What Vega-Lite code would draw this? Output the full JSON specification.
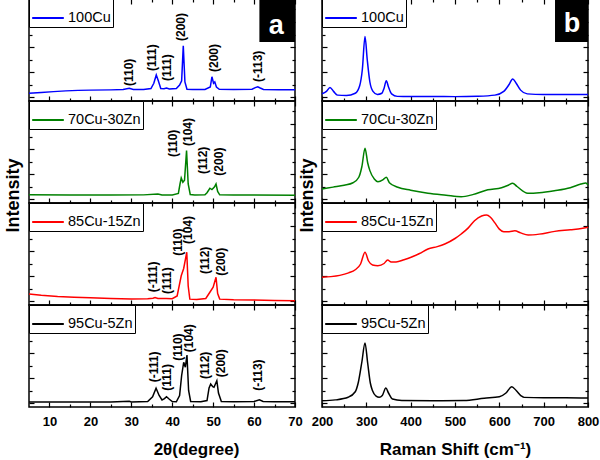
{
"$schema": "https://vega.github.io/schema/vega-lite/v6.json",
"padding": {"left": 3, "top": -3, "right": 2, "bottom": 2},
"background": "white",
"datasets": {
"xrd": [
{"sample":"100Cu","theta":5,"intensity":0.30},{"sample":"100Cu","theta":8,"intensity":0.36},{"sample":"100Cu","theta":11,"intensity":0.43},{"sample":"100Cu","theta":14,"intensity":0.49},{"sample":"100Cu","theta":17,"intensity":0.53},{"sample":"100Cu","theta":20,"intensity":0.55},{"sample":"100Cu","theta":25,"intensity":0.57},{"sample":"100Cu","theta":28,"intensity":0.60},{"sample":"100Cu","theta":29.5,"intensity":0.70},{"sample":"100Cu","theta":30.5,"intensity":0.60},{"sample":"100Cu","theta":33,"intensity":0.60},{"sample":"100Cu","theta":34.8,"intensity":0.68},{"sample":"100Cu","theta":35.5,"intensity":1.1},{"sample":"100Cu","theta":36.1,"intensity":1.76},{"sample":"100Cu","theta":36.6,"intensity":1.3},{"sample":"100Cu","theta":37.2,"intensity":0.68},{"sample":"100Cu","theta":38.0,"intensity":0.66},{"sample":"100Cu","theta":38.6,"intensity":0.72},{"sample":"100Cu","theta":39.3,"intensity":0.64},{"sample":"100Cu","theta":41,"intensity":0.68},{"sample":"100Cu","theta":41.8,"intensity":0.95},{"sample":"100Cu","theta":42.3,"intensity":1.3},{"sample":"100Cu","theta":42.7,"intensity":4.10},{"sample":"100Cu","theta":43.1,"intensity":1.2},{"sample":"100Cu","theta":43.6,"intensity":0.62},{"sample":"100Cu","theta":45,"intensity":0.6},{"sample":"100Cu","theta":48,"intensity":0.6},{"sample":"100Cu","theta":49.3,"intensity":0.8},{"sample":"100Cu","theta":49.7,"intensity":1.62},{"sample":"100Cu","theta":50.1,"intensity":1.1},{"sample":"100Cu","theta":50.4,"intensity":1.2},{"sample":"100Cu","theta":50.8,"intensity":0.8},{"sample":"100Cu","theta":51.5,"intensity":0.62},{"sample":"100Cu","theta":55,"intensity":0.6},{"sample":"100Cu","theta":59.5,"intensity":0.62},{"sample":"100Cu","theta":60.3,"intensity":0.75},{"sample":"100Cu","theta":60.9,"intensity":0.82},{"sample":"100Cu","theta":61.5,"intensity":0.72},{"sample":"100Cu","theta":62.3,"intensity":0.6},{"sample":"100Cu","theta":66,"intensity":0.58},{"sample":"100Cu","theta":70,"intensity":0.58},
{"sample":"70Cu-30Zn","theta":5,"intensity":0.34},{"sample":"70Cu-30Zn","theta":15,"intensity":0.32},{"sample":"70Cu-30Zn","theta":25,"intensity":0.32},{"sample":"70Cu-30Zn","theta":33,"intensity":0.33},{"sample":"70Cu-30Zn","theta":36.5,"intensity":0.4},{"sample":"70Cu-30Zn","theta":37.5,"intensity":0.33},{"sample":"70Cu-30Zn","theta":40,"intensity":0.33},{"sample":"70Cu-30Zn","theta":41.5,"intensity":0.45},{"sample":"70Cu-30Zn","theta":41.9,"intensity":1.2},{"sample":"70Cu-30Zn","theta":42.2,"intensity":1.68},{"sample":"70Cu-30Zn","theta":42.6,"intensity":1.34},{"sample":"70Cu-30Zn","theta":43.0,"intensity":1.5},{"sample":"70Cu-30Zn","theta":43.5,"intensity":3.87},{"sample":"70Cu-30Zn","theta":43.9,"intensity":1.2},{"sample":"70Cu-30Zn","theta":44.4,"intensity":0.36},{"sample":"70Cu-30Zn","theta":45.5,"intensity":0.32},{"sample":"70Cu-30Zn","theta":48,"intensity":0.33},{"sample":"70Cu-30Zn","theta":48.5,"intensity":0.5},{"sample":"70Cu-30Zn","theta":49.2,"intensity":0.86},{"sample":"70Cu-30Zn","theta":49.7,"intensity":0.75},{"sample":"70Cu-30Zn","theta":50.3,"intensity":0.95},{"sample":"70Cu-30Zn","theta":50.7,"intensity":1.2},{"sample":"70Cu-30Zn","theta":51.1,"intensity":0.6},{"sample":"70Cu-30Zn","theta":51.6,"intensity":0.33},{"sample":"70Cu-30Zn","theta":55,"intensity":0.32},{"sample":"70Cu-30Zn","theta":60,"intensity":0.32},{"sample":"70Cu-30Zn","theta":70,"intensity":0.30},
{"sample":"85Cu-15Zn","theta":5,"intensity":0.56},{"sample":"85Cu-15Zn","theta":8,"intensity":0.46},{"sample":"85Cu-15Zn","theta":12,"intensity":0.36},{"sample":"85Cu-15Zn","theta":16,"intensity":0.30},{"sample":"85Cu-15Zn","theta":20,"intensity":0.26},{"sample":"85Cu-15Zn","theta":25,"intensity":0.20},{"sample":"85Cu-15Zn","theta":30,"intensity":0.17},{"sample":"85Cu-15Zn","theta":34,"intensity":0.18},{"sample":"85Cu-15Zn","theta":35.3,"intensity":0.22},{"sample":"85Cu-15Zn","theta":35.8,"intensity":0.28},{"sample":"85Cu-15Zn","theta":36.5,"intensity":0.2},{"sample":"85Cu-15Zn","theta":38.5,"intensity":0.2},{"sample":"85Cu-15Zn","theta":40,"intensity":0.18},{"sample":"85Cu-15Zn","theta":41.2,"intensity":0.4},{"sample":"85Cu-15Zn","theta":42.2,"intensity":2.02},{"sample":"85Cu-15Zn","theta":42.8,"intensity":2.6},{"sample":"85Cu-15Zn","theta":43.55,"intensity":3.9},{"sample":"85Cu-15Zn","theta":43.9,"intensity":1.2},{"sample":"85Cu-15Zn","theta":44.3,"intensity":0.15},{"sample":"85Cu-15Zn","theta":46,"intensity":0.12},{"sample":"85Cu-15Zn","theta":48.2,"intensity":0.2},{"sample":"85Cu-15Zn","theta":49.2,"intensity":0.7},{"sample":"85Cu-15Zn","theta":50.0,"intensity":1.1},{"sample":"85Cu-15Zn","theta":50.7,"intensity":1.9},{"sample":"85Cu-15Zn","theta":51.1,"intensity":0.6},{"sample":"85Cu-15Zn","theta":51.6,"intensity":0.15},{"sample":"85Cu-15Zn","theta":55,"intensity":0.1},{"sample":"85Cu-15Zn","theta":60,"intensity":0.08},{"sample":"85Cu-15Zn","theta":65,"intensity":0.04},{"sample":"85Cu-15Zn","theta":70,"intensity":0.02},
{"sample":"95Cu-5Zn","theta":5,"intensity":0.08},{"sample":"95Cu-5Zn","theta":15,"intensity":0.08},{"sample":"95Cu-5Zn","theta":25,"intensity":0.08},{"sample":"95Cu-5Zn","theta":29.5,"intensity":0.14},{"sample":"95Cu-5Zn","theta":30,"intensity":0.08},{"sample":"95Cu-5Zn","theta":34,"intensity":0.12},{"sample":"95Cu-5Zn","theta":35.2,"intensity":0.5},{"sample":"95Cu-5Zn","theta":36.05,"intensity":1.18},{"sample":"95Cu-5Zn","theta":36.8,"intensity":0.6},{"sample":"95Cu-5Zn","theta":37.5,"intensity":0.24},{"sample":"95Cu-5Zn","theta":38.1,"intensity":0.35},{"sample":"95Cu-5Zn","theta":38.6,"intensity":0.5},{"sample":"95Cu-5Zn","theta":39.3,"intensity":0.3},{"sample":"95Cu-5Zn","theta":40,"intensity":0.12},{"sample":"95Cu-5Zn","theta":41,"intensity":0.1},{"sample":"95Cu-5Zn","theta":41.8,"intensity":0.6},{"sample":"95Cu-5Zn","theta":42.3,"intensity":2.2},{"sample":"95Cu-5Zn","theta":42.8,"intensity":3.26},{"sample":"95Cu-5Zn","theta":43.2,"intensity":2.86},{"sample":"95Cu-5Zn","theta":43.6,"intensity":3.84},{"sample":"95Cu-5Zn","theta":44.0,"intensity":1.0},{"sample":"95Cu-5Zn","theta":44.5,"intensity":0.12},{"sample":"95Cu-5Zn","theta":47,"intensity":0.1},{"sample":"95Cu-5Zn","theta":48.5,"intensity":0.2},{"sample":"95Cu-5Zn","theta":49.0,"intensity":1.2},{"sample":"95Cu-5Zn","theta":49.4,"intensity":1.52},{"sample":"95Cu-5Zn","theta":49.9,"intensity":1.3},{"sample":"95Cu-5Zn","theta":50.2,"intensity":1.26},{"sample":"95Cu-5Zn","theta":50.9,"intensity":1.78},{"sample":"95Cu-5Zn","theta":51.3,"intensity":0.8},{"sample":"95Cu-5Zn","theta":52,"intensity":0.12},{"sample":"95Cu-5Zn","theta":55,"intensity":0.1},{"sample":"95Cu-5Zn","theta":60,"intensity":0.12},{"sample":"95Cu-5Zn","theta":61.3,"intensity":0.26},{"sample":"95Cu-5Zn","theta":62.2,"intensity":0.12},{"sample":"95Cu-5Zn","theta":65,"intensity":0.1},{"sample":"95Cu-5Zn","theta":70,"intensity":0.1}
],
"raman": [
{"sample":"100Cu","shift":200,"intensity":0.26},{"sample":"100Cu","shift":210,"intensity":0.45},{"sample":"100Cu","shift":218,"intensity":0.77},{"sample":"100Cu","shift":226,"intensity":0.45},{"sample":"100Cu","shift":235,"intensity":0.15},{"sample":"100Cu","shift":255,"intensity":0.12},{"sample":"100Cu","shift":275,"intensity":0.3},{"sample":"100Cu","shift":285,"intensity":0.9},{"sample":"100Cu","shift":291,"intensity":2.2},{"sample":"100Cu","shift":297,"intensity":4.85},{"sample":"100Cu","shift":302,"intensity":3.0},{"sample":"100Cu","shift":308,"intensity":1.2},{"sample":"100Cu","shift":315,"intensity":0.45},{"sample":"100Cu","shift":325,"intensity":0.2},{"sample":"100Cu","shift":335,"intensity":0.3},{"sample":"100Cu","shift":340,"intensity":0.7},{"sample":"100Cu","shift":345,"intensity":1.3},{"sample":"100Cu","shift":350,"intensity":0.8},{"sample":"100Cu","shift":357,"intensity":0.25},{"sample":"100Cu","shift":370,"intensity":0.05},{"sample":"100Cu","shift":400,"intensity":0.04},{"sample":"100Cu","shift":450,"intensity":0.04},{"sample":"100Cu","shift":500,"intensity":0.03},{"sample":"100Cu","shift":550,"intensity":0.06},{"sample":"100Cu","shift":590,"intensity":0.15},{"sample":"100Cu","shift":610,"intensity":0.45},{"sample":"100Cu","shift":622,"intensity":1.0},{"sample":"100Cu","shift":630,"intensity":1.44},{"sample":"100Cu","shift":638,"intensity":1.1},{"sample":"100Cu","shift":648,"intensity":0.55},{"sample":"100Cu","shift":663,"intensity":0.25},{"sample":"100Cu","shift":700,"intensity":0.2},{"sample":"100Cu","shift":750,"intensity":0.2},{"sample":"100Cu","shift":800,"intensity":0.2},
{"sample":"70Cu-30Zn","shift":200,"intensity":0.8},{"sample":"70Cu-30Zn","shift":225,"intensity":0.95},{"sample":"70Cu-30Zn","shift":250,"intensity":1.1},{"sample":"70Cu-30Zn","shift":270,"intensity":1.3},{"sample":"70Cu-30Zn","shift":283,"intensity":1.74},{"sample":"70Cu-30Zn","shift":290,"intensity":2.6},{"sample":"70Cu-30Zn","shift":297,"intensity":4.06},{"sample":"70Cu-30Zn","shift":303,"intensity":2.9},{"sample":"70Cu-30Zn","shift":308,"intensity":2.27},{"sample":"70Cu-30Zn","shift":318,"intensity":1.6},{"sample":"70Cu-30Zn","shift":326,"intensity":1.38},{"sample":"70Cu-30Zn","shift":338,"intensity":1.55},{"sample":"70Cu-30Zn","shift":345,"intensity":1.74},{"sample":"70Cu-30Zn","shift":352,"intensity":1.3},{"sample":"70Cu-30Zn","shift":371,"intensity":0.94},{"sample":"70Cu-30Zn","shift":400,"intensity":0.7},{"sample":"70Cu-30Zn","shift":439,"intensity":0.46},{"sample":"70Cu-30Zn","shift":480,"intensity":0.3},{"sample":"70Cu-30Zn","shift":514,"intensity":0.18},{"sample":"70Cu-30Zn","shift":540,"intensity":0.35},{"sample":"70Cu-30Zn","shift":574,"intensity":0.74},{"sample":"70Cu-30Zn","shift":605,"intensity":0.9},{"sample":"70Cu-30Zn","shift":620,"intensity":1.1},{"sample":"70Cu-30Zn","shift":630,"intensity":1.26},{"sample":"70Cu-30Zn","shift":640,"intensity":1.0},{"sample":"70Cu-30Zn","shift":664,"intensity":0.46},{"sample":"70Cu-30Zn","shift":690,"intensity":0.5},{"sample":"70Cu-30Zn","shift":724,"intensity":0.66},{"sample":"70Cu-30Zn","shift":760,"intensity":0.9},{"sample":"70Cu-30Zn","shift":784,"intensity":1.2},{"sample":"70Cu-30Zn","shift":795,"intensity":1.28},{"sample":"70Cu-30Zn","shift":800,"intensity":1.12},
{"sample":"85Cu-15Zn","shift":200,"intensity":1.9},{"sample":"85Cu-15Zn","shift":220,"intensity":1.95},{"sample":"85Cu-15Zn","shift":240,"intensity":2.05},{"sample":"85Cu-15Zn","shift":260,"intensity":2.25},{"sample":"85Cu-15Zn","shift":275,"intensity":2.5},{"sample":"85Cu-15Zn","shift":287,"intensity":2.96},{"sample":"85Cu-15Zn","shift":297,"intensity":3.9},{"sample":"85Cu-15Zn","shift":305,"intensity":3.2},{"sample":"85Cu-15Zn","shift":314,"intensity":2.88},{"sample":"85Cu-15Zn","shift":326,"intensity":2.82},{"sample":"85Cu-15Zn","shift":340,"intensity":3.0},{"sample":"85Cu-15Zn","shift":348,"intensity":3.28},{"sample":"85Cu-15Zn","shift":356,"intensity":3.12},{"sample":"85Cu-15Zn","shift":367,"intensity":3.12},{"sample":"85Cu-15Zn","shift":385,"intensity":3.3},{"sample":"85Cu-15Zn","shift":401,"intensity":3.5},{"sample":"85Cu-15Zn","shift":420,"intensity":3.8},{"sample":"85Cu-15Zn","shift":439,"intensity":4.16},{"sample":"85Cu-15Zn","shift":460,"intensity":4.35},{"sample":"85Cu-15Zn","shift":477,"intensity":4.56},{"sample":"85Cu-15Zn","shift":500,"intensity":5.0},{"sample":"85Cu-15Zn","shift":514,"intensity":5.36},{"sample":"85Cu-15Zn","shift":530,"intensity":5.85},{"sample":"85Cu-15Zn","shift":544,"intensity":6.42},{"sample":"85Cu-15Zn","shift":560,"intensity":6.8},{"sample":"85Cu-15Zn","shift":571,"intensity":6.88},{"sample":"85Cu-15Zn","shift":580,"intensity":6.7},{"sample":"85Cu-15Zn","shift":590,"intensity":6.25},{"sample":"85Cu-15Zn","shift":600,"intensity":5.75},{"sample":"85Cu-15Zn","shift":610,"intensity":5.55},{"sample":"85Cu-15Zn","shift":622,"intensity":5.55},{"sample":"85Cu-15Zn","shift":635,"intensity":5.62},{"sample":"85Cu-15Zn","shift":648,"intensity":5.45},{"sample":"85Cu-15Zn","shift":665,"intensity":5.28},{"sample":"85Cu-15Zn","shift":690,"intensity":5.35},{"sample":"85Cu-15Zn","shift":725,"intensity":5.57},{"sample":"85Cu-15Zn","shift":760,"intensity":5.7},{"sample":"85Cu-15Zn","shift":785,"intensity":5.8},{"sample":"85Cu-15Zn","shift":800,"intensity":5.9},
{"sample":"95Cu-5Zn","shift":200,"intensity":0.18},{"sample":"95Cu-5Zn","shift":230,"intensity":0.25},{"sample":"95Cu-5Zn","shift":259,"intensity":0.46},{"sample":"95Cu-5Zn","shift":275,"intensity":0.9},{"sample":"95Cu-5Zn","shift":282,"intensity":1.66},{"sample":"95Cu-5Zn","shift":290,"intensity":3.3},{"sample":"95Cu-5Zn","shift":297,"intensity":4.8},{"sample":"95Cu-5Zn","shift":303,"intensity":3.2},{"sample":"95Cu-5Zn","shift":309,"intensity":1.6},{"sample":"95Cu-5Zn","shift":314,"intensity":0.98},{"sample":"95Cu-5Zn","shift":322,"intensity":0.55},{"sample":"95Cu-5Zn","shift":329,"intensity":0.46},{"sample":"95Cu-5Zn","shift":336,"intensity":0.6},{"sample":"95Cu-5Zn","shift":344,"intensity":1.2},{"sample":"95Cu-5Zn","shift":350,"intensity":0.8},{"sample":"95Cu-5Zn","shift":359,"intensity":0.32},{"sample":"95Cu-5Zn","shift":380,"intensity":0.2},{"sample":"95Cu-5Zn","shift":450,"intensity":0.18},{"sample":"95Cu-5Zn","shift":520,"intensity":0.2},{"sample":"95Cu-5Zn","shift":566,"intensity":0.38},{"sample":"95Cu-5Zn","shift":600,"intensity":0.5},{"sample":"95Cu-5Zn","shift":615,"intensity":0.8},{"sample":"95Cu-5Zn","shift":628,"intensity":1.3},{"sample":"95Cu-5Zn","shift":638,"intensity":1.0},{"sample":"95Cu-5Zn","shift":650,"intensity":0.55},{"sample":"95Cu-5Zn","shift":656,"intensity":0.45},{"sample":"95Cu-5Zn","shift":700,"intensity":0.42},{"sample":"95Cu-5Zn","shift":750,"intensity":0.42},{"sample":"95Cu-5Zn","shift":800,"intensity":0.4}
],
"labels": [
{"sample":"100Cu","theta":29.5,"intensity":0.88,"label":"(110)"},{"sample":"100Cu","theta":35.1,"intensity":2.08,"label":"(111)"},{"sample":"100Cu","theta":38.7,"intensity":1.28,"label":"(111)"},{"sample":"100Cu","theta":42.2,"intensity":4.48,"label":"(200)"},{"sample":"100Cu","theta":50.1,"intensity":2.0,"label":"(200)"},{"sample":"100Cu","theta":60.9,"intensity":1.2,"label":"(-113)"},
{"sample":"70Cu-30Zn","theta":40.1,"intensity":3.36,"label":"(110)"},{"sample":"70Cu-30Zn","theta":43.8,"intensity":4.24,"label":"(104)"},{"sample":"70Cu-30Zn","theta":47.6,"intensity":2.0,"label":"(112)"},{"sample":"70Cu-30Zn","theta":51.5,"intensity":1.87,"label":"(200)"},
{"sample":"85Cu-15Zn","theta":35.2,"intensity":0.7,"label":"(-111)"},{"sample":"85Cu-15Zn","theta":38.7,"intensity":0.56,"label":"(111)"},{"sample":"85Cu-15Zn","theta":41.3,"intensity":3.62,"label":"(110)"},{"sample":"85Cu-15Zn","theta":43.8,"intensity":4.56,"label":"(104)"},{"sample":"85Cu-15Zn","theta":47.9,"intensity":2.16,"label":"(112)"},{"sample":"85Cu-15Zn","theta":51.9,"intensity":2.02,"label":"(200)"},
{"sample":"95Cu-5Zn","theta":35.6,"intensity":1.66,"label":"(-111)"},{"sample":"95Cu-5Zn","theta":38.7,"intensity":0.98,"label":"(111)"},{"sample":"95Cu-5Zn","theta":41.3,"intensity":3.38,"label":"(110)"},{"sample":"95Cu-5Zn","theta":44.2,"intensity":4.06,"label":"(104)"},{"sample":"95Cu-5Zn","theta":47.9,"intensity":1.92,"label":"(112)"},{"sample":"95Cu-5Zn","theta":51.9,"intensity":2.06,"label":"(200)"},{"sample":"95Cu-5Zn","theta":60.9,"intensity":0.98,"label":"(-113)"}
]
},
"columns": 2,
"bounds": "flush",
"spacing": {"row": 0, "column": 27},
"resolve": {"scale": {"color": "independent", "x": "independent", "y": "independent"}, "legend": {"color": "independent"}},
"concat": [
{"width": 266, "height": 102, "data": {"name": "xrd"}, "transform": [{"filter": "datum.sample === '100Cu'"}],
 "layer": [
  {"mark": {"type": "line", "strokeWidth": 1.5},
   "encoding": {"x": {"field": "theta", "type": "quantitative", "scale": {"domain": [5, 70], "nice": false, "zero": false}, "axis": {"orient": "bottom", "values": [10,20,30,40,50,60,70], "tickSize": -5, "labels": false, "title": null}},
    "y": {"field": "intensity", "type": "quantitative", "scale": {"domain": [-0.32, 7.84], "nice": false, "zero": false}, "axis": {"orient": "left", "values": [0,2,4,6], "tickSize": -5, "labels": false, "title": null}},
    "color": {"field": "sample", "type": "nominal", "scale": {"range": ["#0000ff"]}, "legend": {"title": null}}}},
  {"mark": {"type": "line", "strokeOpacity": 0}, "encoding": {"x": {"field": "theta", "type": "quantitative", "axis": {"orient": "top", "values": [10,20,30,40,50,60,70], "tickSize": -5, "labels": false, "title": null}}, "y": {"field": "intensity", "type": "quantitative", "axis": {"orient": "right", "values": [0,2,4,6], "tickSize": -5, "labels": false, "title": null}}}},
  {"mark": {"type": "line", "strokeOpacity": 0}, "encoding": {"x": {"field": "theta", "type": "quantitative", "axis": {"orient": "bottom", "values": [15,25,35,45,55,65], "tickSize": -3, "labels": false, "title": null}}, "y": {"field": "intensity", "type": "quantitative", "axis": {"orient": "left", "values": [1,3,5,7], "tickSize": -3, "labels": false, "title": null}}}},
  {"mark": {"type": "line", "strokeOpacity": 0}, "encoding": {"x": {"field": "theta", "type": "quantitative", "axis": {"orient": "top", "values": [15,25,35,45,55,65], "tickSize": -3, "labels": false, "title": null}}, "y": {"field": "intensity", "type": "quantitative", "axis": {"orient": "right", "values": [1,3,5,7], "tickSize": -3, "labels": false, "title": null}}}},
  {"data": {"name": "labels"}, "transform": [{"filter": "datum.sample === '100Cu'"}], "mark": {"type": "text", "angle": 270, "align": "left", "baseline": "middle", "fontWeight": "bold", "fontSize": 12, "color": "black"}, "encoding": {"x": {"field": "theta", "type": "quantitative", "axis": null}, "y": {"field": "intensity", "type": "quantitative", "axis": null}, "text": {"field": "label"}}},
  {"data": {"values": [{}]}, "mark": {"type": "rect", "color": "black"}, "encoding": {"x": {"datum": 61.3, "type": "quantitative", "axis": null}, "x2": {"datum": 70}, "y": {"datum": 7.84, "type": "quantitative", "axis": null}, "y2": {"datum": 4.4}}},
  {"data": {"values": [{}]}, "mark": {"type": "text", "text": "a", "color": "white", "fontWeight": "bold", "fontSize": 27, "align": "center", "baseline": "alphabetic"}, "encoding": {"x": {"datum": 65.4, "type": "quantitative", "axis": null}, "y": {"datum": 5.04, "type": "quantitative", "axis": null}}}
 ],
 "resolve": {"axis": {"x": "independent", "y": "independent"}}},
{"width": 266, "height": 102, "data": {"name": "raman"}, "transform": [{"filter": "datum.sample === '100Cu'"}],
 "layer": [
  {"mark": {"type": "line", "strokeWidth": 1.5, "interpolate": "monotone"},
   "encoding": {"x": {"field": "shift", "type": "quantitative", "scale": {"domain": [200, 800], "nice": false, "zero": false}, "axis": {"orient": "bottom", "values": [200,300,400,500,600,700,800], "tickSize": -5, "labels": false, "title": null}},
    "y": {"field": "intensity", "type": "quantitative", "scale": {"domain": [-0.32, 7.84], "nice": false, "zero": false}, "axis": {"orient": "left", "values": [0,2,4,6], "tickSize": -5, "labels": false, "title": null}},
    "color": {"field": "sample", "type": "nominal", "scale": {"range": ["#0000ff"]}, "legend": {"title": null}}}},
  {"mark": {"type": "line", "strokeOpacity": 0}, "encoding": {"x": {"field": "shift", "type": "quantitative", "axis": {"orient": "top", "values": [200,300,400,500,600,700,800], "tickSize": -5, "labels": false, "title": null}}, "y": {"field": "intensity", "type": "quantitative", "axis": {"orient": "right", "values": [0,2,4,6], "tickSize": -5, "labels": false, "title": null}}}},
  {"mark": {"type": "line", "strokeOpacity": 0}, "encoding": {"x": {"field": "shift", "type": "quantitative", "axis": {"orient": "bottom", "values": [250,350,450,550,650,750], "tickSize": -3, "labels": false, "title": null}}, "y": {"field": "intensity", "type": "quantitative", "axis": {"orient": "left", "values": [1,3,5,7], "tickSize": -3, "labels": false, "title": null}}}},
  {"mark": {"type": "line", "strokeOpacity": 0}, "encoding": {"x": {"field": "shift", "type": "quantitative", "axis": {"orient": "top", "values": [250,350,450,550,650,750], "tickSize": -3, "labels": false, "title": null}}, "y": {"field": "intensity", "type": "quantitative", "axis": {"orient": "right", "values": [1,3,5,7], "tickSize": -3, "labels": false, "title": null}}}},
  {"data": {"values": [{}]}, "mark": {"type": "rect", "color": "black"}, "encoding": {"x": {"datum": 725.6, "type": "quantitative", "axis": null}, "x2": {"datum": 800}, "y": {"datum": 7.84, "type": "quantitative", "axis": null}, "y2": {"datum": 4.4}}},
  {"data": {"values": [{}]}, "mark": {"type": "text", "text": "b", "color": "white", "fontWeight": "bold", "fontSize": 27, "align": "center", "baseline": "alphabetic"}, "encoding": {"x": {"datum": 764, "type": "quantitative", "axis": null}, "y": {"datum": 5.2, "type": "quantitative", "axis": null}}}
 ],
 "resolve": {"axis": {"x": "independent", "y": "independent"}}},
{"width": 266, "height": 102, "data": {"name": "xrd"}, "transform": [{"filter": "datum.sample === '70Cu-30Zn'"}],
 "layer": [
  {"mark": {"type": "line", "strokeWidth": 1.5},
   "encoding": {"x": {"field": "theta", "type": "quantitative", "scale": {"domain": [5, 70], "nice": false, "zero": false}, "axis": {"orient": "bottom", "values": [10,20,30,40,50,60,70], "tickSize": -5, "labels": false, "title": null}},
    "y": {"field": "intensity", "type": "quantitative", "scale": {"domain": [-0.32, 7.84], "nice": false, "zero": false}, "axis": {"orient": "left", "values": [0,2,4,6], "tickSize": -5, "labels": false, "title": "Intensity", "titleY": 94, "titlePadding": 6, "titleFontSize": 18}},
    "color": {"field": "sample", "type": "nominal", "scale": {"range": ["#008000"]}, "legend": {"title": null}}}},
  {"mark": {"type": "line", "strokeOpacity": 0}, "encoding": {"x": {"field": "theta", "type": "quantitative", "axis": {"orient": "top", "values": [10,20,30,40,50,60,70], "tickSize": -5, "labels": false, "title": null}}, "y": {"field": "intensity", "type": "quantitative", "axis": {"orient": "right", "values": [0,2,4,6], "tickSize": -5, "labels": false, "title": null}}}},
  {"mark": {"type": "line", "strokeOpacity": 0}, "encoding": {"x": {"field": "theta", "type": "quantitative", "axis": {"orient": "bottom", "values": [15,25,35,45,55,65], "tickSize": -3, "labels": false, "title": null}}, "y": {"field": "intensity", "type": "quantitative", "axis": {"orient": "left", "values": [1,3,5,7], "tickSize": -3, "labels": false, "title": null}}}},
  {"mark": {"type": "line", "strokeOpacity": 0}, "encoding": {"x": {"field": "theta", "type": "quantitative", "axis": {"orient": "top", "values": [15,25,35,45,55,65], "tickSize": -3, "labels": false, "title": null}}, "y": {"field": "intensity", "type": "quantitative", "axis": {"orient": "right", "values": [1,3,5,7], "tickSize": -3, "labels": false, "title": null}}}},
  {"data": {"name": "labels"}, "transform": [{"filter": "datum.sample === '70Cu-30Zn'"}], "mark": {"type": "text", "angle": 270, "align": "left", "baseline": "middle", "fontWeight": "bold", "fontSize": 12, "color": "black"}, "encoding": {"x": {"field": "theta", "type": "quantitative", "axis": null}, "y": {"field": "intensity", "type": "quantitative", "axis": null}, "text": {"field": "label"}}}
 ],
 "resolve": {"axis": {"x": "independent", "y": "independent"}}},
{"width": 266, "height": 102, "data": {"name": "raman"}, "transform": [{"filter": "datum.sample === '70Cu-30Zn'"}],
 "layer": [
  {"mark": {"type": "line", "strokeWidth": 1.5, "interpolate": "monotone"},
   "encoding": {"x": {"field": "shift", "type": "quantitative", "scale": {"domain": [200, 800], "nice": false, "zero": false}, "axis": {"orient": "bottom", "values": [200,300,400,500,600,700,800], "tickSize": -5, "labels": false, "title": null}},
    "y": {"field": "intensity", "type": "quantitative", "scale": {"domain": [-0.32, 7.84], "nice": false, "zero": false}, "axis": {"orient": "left", "values": [0,2,4,6], "tickSize": -5, "labels": false, "title": "Intensity", "titleY": 94, "titlePadding": 5, "titleFontSize": 18}},
    "color": {"field": "sample", "type": "nominal", "scale": {"range": ["#008000"]}, "legend": {"title": null}}}},
  {"mark": {"type": "line", "strokeOpacity": 0}, "encoding": {"x": {"field": "shift", "type": "quantitative", "axis": {"orient": "top", "values": [200,300,400,500,600,700,800], "tickSize": -5, "labels": false, "title": null}}, "y": {"field": "intensity", "type": "quantitative", "axis": {"orient": "right", "values": [0,2,4,6], "tickSize": -5, "labels": false, "title": null}}}},
  {"mark": {"type": "line", "strokeOpacity": 0}, "encoding": {"x": {"field": "shift", "type": "quantitative", "axis": {"orient": "bottom", "values": [250,350,450,550,650,750], "tickSize": -3, "labels": false, "title": null}}, "y": {"field": "intensity", "type": "quantitative", "axis": {"orient": "left", "values": [1,3,5,7], "tickSize": -3, "labels": false, "title": null}}}},
  {"mark": {"type": "line", "strokeOpacity": 0}, "encoding": {"x": {"field": "shift", "type": "quantitative", "axis": {"orient": "top", "values": [250,350,450,550,650,750], "tickSize": -3, "labels": false, "title": null}}, "y": {"field": "intensity", "type": "quantitative", "axis": {"orient": "right", "values": [1,3,5,7], "tickSize": -3, "labels": false, "title": null}}}}
 ],
 "resolve": {"axis": {"x": "independent", "y": "independent"}}},
{"width": 266, "height": 102, "data": {"name": "xrd"}, "transform": [{"filter": "datum.sample === '85Cu-15Zn'"}],
 "layer": [
  {"mark": {"type": "line", "strokeWidth": 1.5},
   "encoding": {"x": {"field": "theta", "type": "quantitative", "scale": {"domain": [5, 70], "nice": false, "zero": false}, "axis": {"orient": "bottom", "values": [10,20,30,40,50,60,70], "tickSize": -5, "labels": false, "title": null}},
    "y": {"field": "intensity", "type": "quantitative", "scale": {"domain": [-0.32, 7.84], "nice": false, "zero": false}, "axis": {"orient": "left", "values": [0,2,4,6], "tickSize": -5, "labels": false, "title": null}},
    "color": {"field": "sample", "type": "nominal", "scale": {"range": ["#ff0000"]}, "legend": {"title": null}}}},
  {"mark": {"type": "line", "strokeOpacity": 0}, "encoding": {"x": {"field": "theta", "type": "quantitative", "axis": {"orient": "top", "values": [10,20,30,40,50,60,70], "tickSize": -5, "labels": false, "title": null}}, "y": {"field": "intensity", "type": "quantitative", "axis": {"orient": "right", "values": [0,2,4,6], "tickSize": -5, "labels": false, "title": null}}}},
  {"mark": {"type": "line", "strokeOpacity": 0}, "encoding": {"x": {"field": "theta", "type": "quantitative", "axis": {"orient": "bottom", "values": [15,25,35,45,55,65], "tickSize": -3, "labels": false, "title": null}}, "y": {"field": "intensity", "type": "quantitative", "axis": {"orient": "left", "values": [1,3,5,7], "tickSize": -3, "labels": false, "title": null}}}},
  {"mark": {"type": "line", "strokeOpacity": 0}, "encoding": {"x": {"field": "theta", "type": "quantitative", "axis": {"orient": "top", "values": [15,25,35,45,55,65], "tickSize": -3, "labels": false, "title": null}}, "y": {"field": "intensity", "type": "quantitative", "axis": {"orient": "right", "values": [1,3,5,7], "tickSize": -3, "labels": false, "title": null}}}},
  {"data": {"name": "labels"}, "transform": [{"filter": "datum.sample === '85Cu-15Zn'"}], "mark": {"type": "text", "angle": 270, "align": "left", "baseline": "middle", "fontWeight": "bold", "fontSize": 12, "color": "black"}, "encoding": {"x": {"field": "theta", "type": "quantitative", "axis": null}, "y": {"field": "intensity", "type": "quantitative", "axis": null}, "text": {"field": "label"}}}
 ],
 "resolve": {"axis": {"x": "independent", "y": "independent"}}},
{"width": 266, "height": 102, "data": {"name": "raman"}, "transform": [{"filter": "datum.sample === '85Cu-15Zn'"}],
 "layer": [
  {"mark": {"type": "line", "strokeWidth": 1.5, "interpolate": "monotone"},
   "encoding": {"x": {"field": "shift", "type": "quantitative", "scale": {"domain": [200, 800], "nice": false, "zero": false}, "axis": {"orient": "bottom", "values": [200,300,400,500,600,700,800], "tickSize": -5, "labels": false, "title": null}},
    "y": {"field": "intensity", "type": "quantitative", "scale": {"domain": [-0.32, 7.84], "nice": false, "zero": false}, "axis": {"orient": "left", "values": [0,2,4,6], "tickSize": -5, "labels": false, "title": null}},
    "color": {"field": "sample", "type": "nominal", "scale": {"range": ["#ff0000"]}, "legend": {"title": null}}}},
  {"mark": {"type": "line", "strokeOpacity": 0}, "encoding": {"x": {"field": "shift", "type": "quantitative", "axis": {"orient": "top", "values": [200,300,400,500,600,700,800], "tickSize": -5, "labels": false, "title": null}}, "y": {"field": "intensity", "type": "quantitative", "axis": {"orient": "right", "values": [0,2,4,6], "tickSize": -5, "labels": false, "title": null}}}},
  {"mark": {"type": "line", "strokeOpacity": 0}, "encoding": {"x": {"field": "shift", "type": "quantitative", "axis": {"orient": "bottom", "values": [250,350,450,550,650,750], "tickSize": -3, "labels": false, "title": null}}, "y": {"field": "intensity", "type": "quantitative", "axis": {"orient": "left", "values": [1,3,5,7], "tickSize": -3, "labels": false, "title": null}}}},
  {"mark": {"type": "line", "strokeOpacity": 0}, "encoding": {"x": {"field": "shift", "type": "quantitative", "axis": {"orient": "top", "values": [250,350,450,550,650,750], "tickSize": -3, "labels": false, "title": null}}, "y": {"field": "intensity", "type": "quantitative", "axis": {"orient": "right", "values": [1,3,5,7], "tickSize": -3, "labels": false, "title": null}}}}
 ],
 "resolve": {"axis": {"x": "independent", "y": "independent"}}},
{"width": 266, "height": 102, "data": {"name": "xrd"}, "transform": [{"filter": "datum.sample === '95Cu-5Zn'"}],
 "layer": [
  {"mark": {"type": "line", "strokeWidth": 1.5},
   "encoding": {"x": {"field": "theta", "type": "quantitative", "scale": {"domain": [5, 70], "nice": false, "zero": false}, "axis": {"orient": "bottom", "values": [10,20,30,40,50,60,70], "tickSize": -5, "labels": true, "labelPadding": 13, "title": "2θ(degree)", "titleX": 167, "titlePadding": 13, "titleFontSize": 17}},
    "y": {"field": "intensity", "type": "quantitative", "scale": {"domain": [-0.32, 7.84], "nice": false, "zero": false}, "axis": {"orient": "left", "values": [0,2,4,6], "tickSize": -5, "labels": false, "title": null}},
    "color": {"field": "sample", "type": "nominal", "scale": {"range": ["#000000"]}, "legend": {"title": null}}}},
  {"mark": {"type": "line", "strokeOpacity": 0}, "encoding": {"x": {"field": "theta", "type": "quantitative", "axis": {"orient": "top", "values": [10,20,30,40,50,60,70], "tickSize": -5, "labels": false, "title": null}}, "y": {"field": "intensity", "type": "quantitative", "axis": {"orient": "right", "values": [0,2,4,6], "tickSize": -5, "labels": false, "title": null}}}},
  {"mark": {"type": "line", "strokeOpacity": 0}, "encoding": {"x": {"field": "theta", "type": "quantitative", "axis": {"orient": "bottom", "values": [15,25,35,45,55,65], "tickSize": -3, "labels": false, "title": null}}, "y": {"field": "intensity", "type": "quantitative", "axis": {"orient": "left", "values": [1,3,5,7], "tickSize": -3, "labels": false, "title": null}}}},
  {"mark": {"type": "line", "strokeOpacity": 0}, "encoding": {"x": {"field": "theta", "type": "quantitative", "axis": {"orient": "top", "values": [15,25,35,45,55,65], "tickSize": -3, "labels": false, "title": null}}, "y": {"field": "intensity", "type": "quantitative", "axis": {"orient": "right", "values": [1,3,5,7], "tickSize": -3, "labels": false, "title": null}}}},
  {"data": {"name": "labels"}, "transform": [{"filter": "datum.sample === '95Cu-5Zn'"}], "mark": {"type": "text", "angle": 270, "align": "left", "baseline": "middle", "fontWeight": "bold", "fontSize": 12, "color": "black"}, "encoding": {"x": {"field": "theta", "type": "quantitative", "axis": null}, "y": {"field": "intensity", "type": "quantitative", "axis": null}, "text": {"field": "label"}}}
 ],
 "resolve": {"axis": {"x": "independent", "y": "independent"}}},
{"width": 266, "height": 102, "data": {"name": "raman"}, "transform": [{"filter": "datum.sample === '95Cu-5Zn'"}],
 "layer": [
  {"mark": {"type": "line", "strokeWidth": 1.5, "interpolate": "monotone"},
   "encoding": {"x": {"field": "shift", "type": "quantitative", "scale": {"domain": [200, 800], "nice": false, "zero": false}, "axis": {"orient": "bottom", "values": [200,300,400,500,600,700,800], "tickSize": -5, "labels": true, "labelPadding": 13, "title": "Raman Shift (cm⁻¹)", "titlePadding": 13, "titleFontSize": 17}},
    "y": {"field": "intensity", "type": "quantitative", "scale": {"domain": [-0.32, 7.84], "nice": false, "zero": false}, "axis": {"orient": "left", "values": [0,2,4,6], "tickSize": -5, "labels": false, "title": null}},
    "color": {"field": "sample", "type": "nominal", "scale": {"range": ["#000000"]}, "legend": {"title": null}}}},
  {"mark": {"type": "line", "strokeOpacity": 0}, "encoding": {"x": {"field": "shift", "type": "quantitative", "axis": {"orient": "top", "values": [200,300,400,500,600,700,800], "tickSize": -5, "labels": false, "title": null}}, "y": {"field": "intensity", "type": "quantitative", "axis": {"orient": "right", "values": [0,2,4,6], "tickSize": -5, "labels": false, "title": null}}}},
  {"mark": {"type": "line", "strokeOpacity": 0}, "encoding": {"x": {"field": "shift", "type": "quantitative", "axis": {"orient": "bottom", "values": [250,350,450,550,650,750], "tickSize": -3, "labels": false, "title": null}}, "y": {"field": "intensity", "type": "quantitative", "axis": {"orient": "left", "values": [1,3,5,7], "tickSize": -3, "labels": false, "title": null}}}},
  {"mark": {"type": "line", "strokeOpacity": 0}, "encoding": {"x": {"field": "shift", "type": "quantitative", "axis": {"orient": "top", "values": [250,350,450,550,650,750], "tickSize": -3, "labels": false, "title": null}}, "y": {"field": "intensity", "type": "quantitative", "axis": {"orient": "right", "values": [1,3,5,7], "tickSize": -3, "labels": false, "title": null}}}}
 ],
 "resolve": {"axis": {"x": "independent", "y": "independent"}}}
],
"config": {
 "font": "Liberation Sans",
 "view": {"stroke": "black", "strokeWidth": 1.5},
 "axis": {"domain": false, "grid": false, "minExtent": 0, "tickColor": "black", "tickWidth": 1.2, "labelFont": "Liberation Sans", "labelFontWeight": "bold", "labelFontSize": 13, "labelColor": "black", "labelFlush": false, "labelOverlap": false, "titleFont": "Liberation Sans", "titleFontWeight": "bold", "titleColor": "black", "zindex": 1},
 "legend": {"orient": "top-left", "offset": 0, "padding": 2, "strokeColor": "black", "strokeWidth": 1, "fillColor": "white", "cornerRadius": 0, "symbolType": "stroke", "symbolSize": 1000, "symbolStrokeWidth": 2, "labelFont": "Liberation Sans", "labelFontSize": 14.5, "labelColor": "black", "labelOffset": 3}
}
}
